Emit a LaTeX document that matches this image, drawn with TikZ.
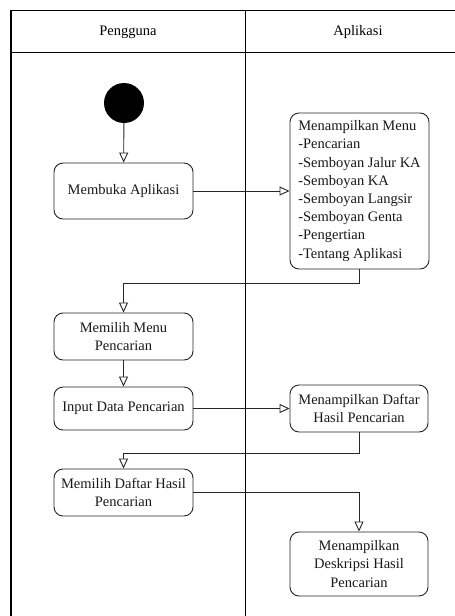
\documentclass[tikz,border=0pt]{standalone}
\usepackage{fontspec}
\setmainfont{Liberation Serif}
\usetikzlibrary{arrows.meta}
\begin{document}
\begin{tikzpicture}[x=1pt,y=-1pt,
  lane/.style={line width=1.3pt,black},
  act/.style={draw=black!85,line width=0.9pt,rounded corners=9pt,fill=white,
    font=\fontsize{14.5}{18.2}\selectfont,align=center,inner sep=3pt,text=black!90},
  flow/.style={draw=black!85,line width=0.9pt,-{Triangle[open,length=10pt,width=9pt]}}]
\useasboundingbox (0,0) rectangle (455,616);
% swimlanes
\draw[lane] (11,616) -- (11,10.7) -- (460,10.7);
\draw[lane] (11,52.7) -- (460,52.7);
\draw[lane] (245.3,10.7) -- (245.3,616);
\node[font=\fontsize{14.5}{18.2}\selectfont] (h1) at (128,32) {Pengguna};
\node[font=\fontsize{14.5}{18.2}\selectfont] (h2) at (358,32) {Aplikasi};
% nodes
\node[circle,fill=black,minimum size=40pt,inner sep=0pt] (start) at (124,103) {};
\node[act,minimum width=139pt,minimum height=56pt] (buka) at (123.5,191) {Membuka Aplikasi};
\node[act,minimum width=139pt,minimum height=156pt,align=left,inner xsep=5pt] (menu) at (359.5,191)
  {Menampilkan Menu\\-Pencarian\\-Semboyan Jalur KA\\-Semboyan KA\\-Semboyan Langsir\\-Semboyan Genta\\-Pengertian\\-Tentang Aplikasi};
\node[act,minimum width=139pt,minimum height=47pt] (mm) at (123.5,336.5) {Memilih Menu\\Pencarian};
\node[act,minimum width=139pt,minimum height=43pt] (inp) at (123.5,408.5) {Input Data Pencarian};
\node[act,minimum width=138pt,minimum height=47pt] (daftar) at (359,408.5) {Menampilkan Daftar\\Hasil Pencarian};
\node[act,minimum width=139pt,minimum height=47pt] (md) at (123.5,492.5) {Memilih Daftar Hasil\\Pencarian};
\node[act,minimum width=138pt,minimum height=64pt] (des) at (359,564) {Menampilkan\\Deskripsi Hasil\\Pencarian};
% flows
\draw[flow] (start) -- (buka);
\draw[flow] (buka) -- (menu);
\draw[flow] (menu.south) -- ++(0,14) -| (mm.north);
\draw[flow] (mm) -- (inp);
\draw[flow] (inp) -- (daftar);
\draw[flow] (daftar.south) -- ++(0,21) -| (md.north);
\draw[flow] (md.east) -| (des.north);
\end{tikzpicture}
\end{document}
